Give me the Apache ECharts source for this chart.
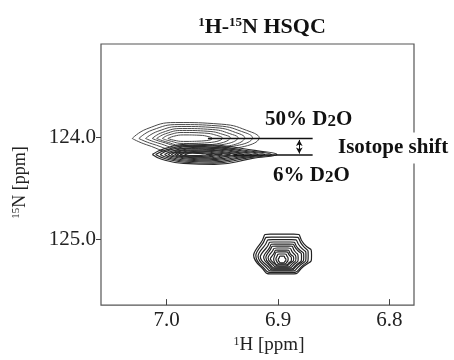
<!DOCTYPE html>
<html>
<head>
<meta charset="utf-8">
<script src="https://cdn.jsdelivr.net/npm/echarts@6/dist/echarts.min.js"></script>
<style>
  html, body { margin: 0; padding: 0; background: #fff; }
  #chart { width: 454px; height: 360px; }
</style>
</head>
<body>
<div id="chart"></div>
<script>
// axis ticks (ppm)
var H_TICKS = [7.0, 6.9, 6.8]
var N_TICKS = [124.0, 125.0]

// contour levels, outer -> inner, points [1H ppm, 15N ppm]
// 50% D2O peak
var peak50 = [
  [[7.031, 124.010], [7.018, 123.916], [6.992, 123.853], [6.951, 123.869], [6.924, 123.947], [6.917, 124.000], [6.951, 124.123], [6.992, 124.147], [7.018, 124.072]],
  [[7.025, 124.010], [7.013, 123.927], [6.989, 123.873], [6.954, 123.886], [6.929, 123.955], [6.923, 124.000], [6.954, 124.106], [6.989, 124.127], [7.013, 124.063]],
  [[7.019, 124.010], [7.008, 123.939], [6.987, 123.892], [6.956, 123.904], [6.935, 123.963], [6.930, 124.000], [6.956, 124.098], [6.987, 124.108], [7.008, 124.054]],
  [[7.013, 124.010], [7.004, 123.951], [6.986, 123.912], [6.959, 123.922], [6.941, 123.971], [6.936, 124.000], [6.959, 124.080], [6.986, 124.088], [7.004, 124.045]],
  [[7.009, 124.010], [7.001, 123.963], [6.986, 123.931], [6.963, 123.939], [6.947, 123.978], [6.943, 124.000], [6.963, 124.072], [6.986, 124.078], [7.001, 124.041]],
  [[7.004, 124.010], [6.998, 123.975], [6.985, 123.951], [6.966, 123.957], [6.953, 123.986], [6.950, 124.005], [6.966, 124.054], [6.985, 124.059], [6.998, 124.032]],
  [[6.999, 124.010], [6.994, 123.989], [6.985, 123.975], [6.971, 123.978], [6.961, 123.996], [6.959, 124.010], [6.971, 124.036], [6.985, 124.039], [6.994, 124.026]]
]
// 6% D2O peak
var peak6 = [
  [[7.013, 124.167], [7.002, 124.110], [6.980, 124.064], [6.951, 124.079], [6.923, 124.125], [6.901, 124.167], [6.923, 124.206], [6.957, 124.265], [6.985, 124.255], [7.004, 124.216]],
  [[7.010, 124.167], [6.999, 124.117], [6.979, 124.076], [6.953, 124.090], [6.927, 124.131], [6.906, 124.167], [6.927, 124.201], [6.958, 124.253], [6.984, 124.244], [7.001, 124.209]],
  [[7.006, 124.167], [6.997, 124.123], [6.978, 124.088], [6.954, 124.100], [6.931, 124.135], [6.912, 124.167], [6.931, 124.196], [6.959, 124.241], [6.982, 124.234], [6.998, 124.204]],
  [[7.002, 124.167], [6.994, 124.130], [6.977, 124.100], [6.956, 124.110], [6.935, 124.140], [6.918, 124.167], [6.935, 124.192], [6.960, 124.230], [6.981, 124.224], [6.996, 124.198]],
  [[6.999, 124.167], [6.991, 124.136], [6.976, 124.111], [6.958, 124.119], [6.939, 124.144], [6.924, 124.167], [6.939, 124.188], [6.962, 124.220], [6.980, 124.214], [6.993, 124.193]],
  [[6.996, 124.167], [6.990, 124.142], [6.976, 124.121], [6.960, 124.127], [6.944, 124.148], [6.931, 124.167], [6.944, 124.184], [6.963, 124.210], [6.980, 124.205], [6.991, 124.188]],
  [[6.993, 124.167], [6.988, 124.147], [6.976, 124.130], [6.962, 124.136], [6.948, 124.152], [6.937, 124.167], [6.948, 124.180], [6.965, 124.201], [6.979, 124.197], [6.989, 124.184]],
  [[6.991, 124.167], [6.986, 124.152], [6.976, 124.139], [6.965, 124.143], [6.953, 124.156], [6.943, 124.167], [6.953, 124.177], [6.967, 124.193], [6.979, 124.190], [6.987, 124.180]],
  [[6.988, 124.167], [6.984, 124.156], [6.977, 124.147], [6.967, 124.150], [6.958, 124.159], [6.950, 124.167], [6.958, 124.174], [6.969, 124.186], [6.979, 124.184], [6.985, 124.176]],
  [[6.984, 124.167], [6.982, 124.160], [6.977, 124.155], [6.971, 124.157], [6.964, 124.162], [6.959, 124.167], [6.964, 124.172], [6.972, 124.179], [6.978, 124.178], [6.982, 124.173]]
]
// lower peak near 6.90 / 125.2
var peakLow = [
  [[6.922, 125.157], [6.916, 125.044], [6.907, 124.951], [6.886, 124.951], [6.877, 125.044], [6.870, 125.157], [6.877, 125.269], [6.890, 125.343], [6.903, 125.343], [6.916, 125.269]],
  [[6.920, 125.162], [6.915, 125.062], [6.906, 124.980], [6.887, 124.980], [6.878, 125.062], [6.873, 125.162], [6.878, 125.262], [6.891, 125.328], [6.902, 125.328], [6.915, 125.262]],
  [[6.918, 125.167], [6.913, 125.077], [6.905, 125.005], [6.888, 125.005], [6.880, 125.077], [6.875, 125.167], [6.880, 125.255], [6.891, 125.314], [6.902, 125.314], [6.913, 125.255]],
  [[6.916, 125.172], [6.911, 125.093], [6.904, 125.029], [6.889, 125.029], [6.882, 125.093], [6.877, 125.172], [6.882, 125.251], [6.892, 125.304], [6.901, 125.304], [6.911, 125.251]],
  [[6.913, 125.176], [6.909, 125.106], [6.903, 125.049], [6.890, 125.049], [6.883, 125.106], [6.879, 125.176], [6.883, 125.247], [6.892, 125.294], [6.901, 125.294], [6.909, 125.247]],
  [[6.911, 125.181], [6.908, 125.120], [6.902, 125.069], [6.890, 125.069], [6.885, 125.120], [6.882, 125.181], [6.885, 125.243], [6.893, 125.284], [6.900, 125.284], [6.908, 125.243]],
  [[6.909, 125.186], [6.906, 125.132], [6.901, 125.088], [6.891, 125.088], [6.887, 125.132], [6.884, 125.186], [6.887, 125.239], [6.893, 125.274], [6.899, 125.274], [6.906, 125.239]],
  [[6.907, 125.191], [6.904, 125.145], [6.901, 125.108], [6.892, 125.108], [6.889, 125.145], [6.886, 125.191], [6.889, 125.235], [6.894, 125.265], [6.899, 125.265], [6.904, 125.235]],
  [[6.904, 125.196], [6.903, 125.158], [6.900, 125.127], [6.893, 125.127], [6.890, 125.158], [6.888, 125.196], [6.890, 125.231], [6.894, 125.255], [6.898, 125.255], [6.903, 125.231]],
  [[6.902, 125.196], [6.901, 125.169], [6.899, 125.147], [6.894, 125.147], [6.892, 125.169], [6.891, 125.196], [6.892, 125.225], [6.895, 125.245], [6.898, 125.245], [6.901, 125.225]],
  [[6.900, 125.201], [6.899, 125.182], [6.898, 125.167], [6.895, 125.167], [6.894, 125.182], [6.893, 125.201], [6.894, 125.223], [6.896, 125.235], [6.897, 125.235], [6.899, 125.223]]
]

// isotope shift marker
var shiftTop = [[6.963, 124.010], [6.869, 124.010]]
var shiftBottom = [[6.940, 124.172], [6.869, 124.172]]
var shiftArrow = [[6.881, 124.024], [6.881, 124.158]]

var SERIF = 'Liberation Serif'

function contourSeries(peak, color, width, smooth) {
  return peak.map(function (c) {
    return {
      type: 'line',
      data: c.concat([c[0]]),
      smooth: smooth,
      symbol: 'none',
      silent: true,
      animation: false,
      lineStyle: { color: color, width: width }
    }
  })
}

var series = []
  .concat(contourSeries(peak50, '#4a4a4a', 1, 0.5))
  .concat(contourSeries(peak6, '#2a2a2a', 1.1, 0.5))
  .concat(contourSeries(peakLow, '#222', 1.2, 0.8))

series.push({
  type: 'line',
  data: shiftTop,
  symbol: 'none',
  animation: false,
  lineStyle: { color: '#111', width: 1.5 },
  markLine: {
    silent: true,
    symbol: ['arrow', 'arrow'],
    symbolSize: [5, 6],
    label: { show: false },
    lineStyle: { color: '#111', width: 1, type: 'solid' },
    data: [[{ coord: shiftArrow[0] }, { coord: shiftArrow[1] }]]
  }
})
series.push({
  type: 'line',
  data: shiftBottom,
  symbol: 'none',
  animation: false,
  lineStyle: { color: '#111', width: 1.5 }
})

var chart = echarts.init(document.getElementById('chart'))
chart.setOption({
  animation: false,
  title: {
    text: '{s|1}H-{s|15}N HSQC',
    left: 257,
    textAlign: 'center',
    top: 11,
    textStyle: {
      fontFamily: SERIF,
      fontWeight: 'bold',
      fontSize: 22,
      color: '#111',
      rich: {
        s: { fontFamily: SERIF, fontWeight: 'bold', fontSize: 13, verticalAlign: 'top', color: '#111' }
      }
    }
  },
  grid: {
    left: 101,
    right: 40,
    top: 44,
    bottom: 54,
    show: true,
    borderColor: '#555',
    borderWidth: 1.2
  },
  xAxis: {
    type: 'value',
    inverse: true,
    min: 6.778,
    max: 7.059,
    splitLine: { show: false },
    axisLine: { show: false },
    axisTick: { show: true, inside: true, length: 6, customValues: H_TICKS, lineStyle: { color: '#444' } },
    axisLabel: {
      customValues: H_TICKS,
      formatter: function (v) { return v.toFixed(1) },
      fontFamily: SERIF,
      fontSize: 21,
      color: '#222',
      margin: 5
    },
    name: '{s|1}H [ppm]',
    nameLocation: 'middle',
    nameGap: 21,
    nameTextStyle: {
      fontFamily: SERIF,
      fontSize: 19,
      color: '#222',
      padding: [0, 0, 0, 23],
      rich: { s: { fontFamily: SERIF, fontSize: 12, verticalAlign: 'top', color: '#222' } }
    }
  },
  yAxis: {
    type: 'value',
    inverse: true,
    min: 123.08,
    max: 125.65,
    splitLine: { show: false },
    axisLine: { show: false },
    axisTick: { show: true, inside: false, length: 5, customValues: N_TICKS, lineStyle: { color: '#444' } },
    axisLabel: {
      customValues: N_TICKS,
      formatter: function (v) { return v.toFixed(1) },
      fontFamily: SERIF,
      fontSize: 21,
      color: '#222',
      margin: 5
    },
    name: '{s|15}N [ppm]',
    nameLocation: 'middle',
    nameRotate: 90,
    nameGap: 72,
    nameTextStyle: {
      fontFamily: SERIF,
      fontSize: 18,
      color: '#222',
      padding: [0, 16, 0, 0],
      rich: { s: { fontFamily: SERIF, fontSize: 11, verticalAlign: 'top', color: '#222' } }
    }
  },
  graphic: [
    {
      type: 'text', x: 265, y: 120, z: 100,
      style: {
        text: '50% D{b|2}O', fontFamily: SERIF, fontWeight: 'bold', fontSize: 21, fill: '#111', verticalAlign: 'middle',
        rich: { b: { fontFamily: SERIF, fontWeight: 'bold', fontSize: 17, verticalAlign: 'bottom', fill: '#111' } }
      }
    },
    {
      type: 'text', x: 336, y: 148, z: 100,
      style: {
        text: 'Isotope shift', fontFamily: SERIF, fontWeight: 'bold', fontSize: 21, fill: '#111', verticalAlign: 'middle',
        backgroundColor: '#fff', padding: [5, 2, 5, 2]
      }
    },
    {
      type: 'text', x: 273, y: 176, z: 100,
      style: {
        text: '6% D{b|2}O', fontFamily: SERIF, fontWeight: 'bold', fontSize: 21, fill: '#111', verticalAlign: 'middle',
        rich: { b: { fontFamily: SERIF, fontWeight: 'bold', fontSize: 17, verticalAlign: 'bottom', fill: '#111' } }
      }
    }
  ],
  series: series
})
</script>
</body>
</html>
